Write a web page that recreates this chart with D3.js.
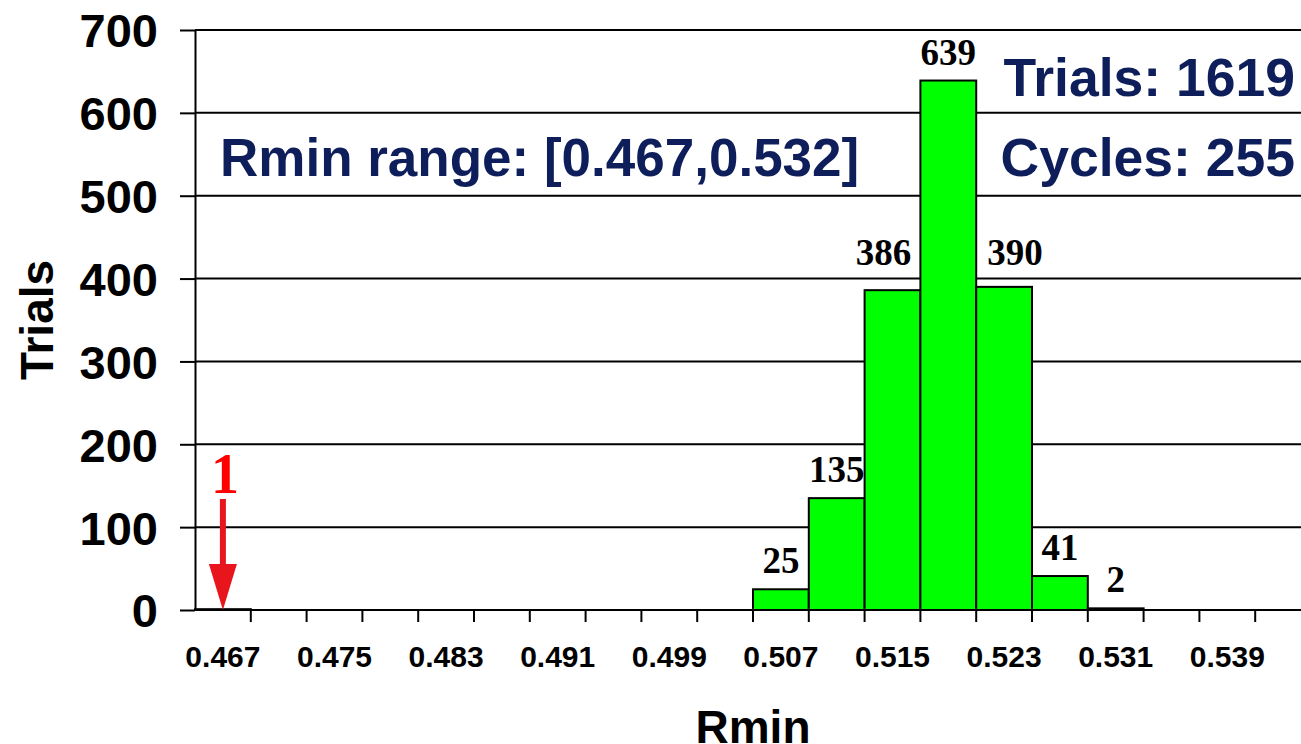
<!DOCTYPE html>
<html>
<head>
<meta charset="utf-8">
<script src="https://cdnjs.cloudflare.com/ajax/libs/d3/7.8.5/d3.min.js"></script>
<style>
  html, body { margin: 0; padding: 0; background: #fff; }
  svg { display: block; }
</style>
</head>
<body>
<svg id="chart"></svg>
<script>
// bins of Rmin (width 0.004), labelled by their centre
var bins = ["0.467","0.471","0.475","0.479","0.483","0.487","0.491","0.495","0.499","0.503",
            "0.507","0.511","0.515","0.519","0.523","0.527","0.531","0.535","0.539","0.543"];
var counts = [1,0,0,0,0,0,0,0,0,0,25,135,386,639,390,41,2,0,0,0];
var yTicks = [0,100,200,300,400,500,600,700];
var shownBinLabels = bins.filter(function(d, i) { return i % 2 === 0 && i < 19; });

var totalTrials = d3.sum(counts);
var cycles = 255;
var rangeText = "Rmin range: [0.467,0.532]";

var W = 1301, H = 744;
var plotLeft = 195, plotTop = 30, plotBottom = 610, binW = 55.8;

var svg = d3.select("#chart").attr("width", W).attr("height", H);

var x = d3.scaleBand().domain(bins).range([plotLeft, plotLeft + bins.length * binW]).padding(0);
var y = d3.scaleLinear().domain([0, 700]).range([plotBottom, plotTop]);

var sans = "'Liberation Sans', Arial, Helvetica, sans-serif";
var serif = "'Liberation Serif', 'Times New Roman', serif";
var navy = "#0d1e5b";

// gridlines
svg.append("g").selectAll("line")
  .data(yTicks.filter(function(d) { return d > 0; }))
  .enter().append("line")
  .attr("x1", plotLeft).attr("x2", W)
  .attr("y1", function(d) { return y(d); }).attr("y2", function(d) { return y(d); })
  .attr("stroke", "#000").attr("stroke-width", 2);

// bars
svg.append("g").selectAll("rect")
  .data(counts.map(function(c, i) { return {bin: bins[i], n: c}; }).filter(function(d) { return d.n > 0; }))
  .enter().append("rect")
  .attr("x", function(d) { return x(d.bin); })
  .attr("y", function(d) { return y(d.n); })
  .attr("width", x.bandwidth())
  .attr("height", function(d) { return y(0) - y(d.n); })
  .attr("fill", "#00ff00")
  .attr("stroke", "#000")
  .attr("stroke-width", 2);

// y axis
var yAxis = svg.append("g")
  .attr("transform", "translate(" + plotLeft + ",0)")
  .call(d3.axisLeft(y).tickValues(yTicks).tickSize(15).tickSizeOuter(0).tickPadding(22));
yAxis.select(".domain").attr("stroke-width", 2);
yAxis.selectAll(".tick line").attr("stroke-width", 2);
yAxis.selectAll("text")
  .attr("font-family", sans).attr("font-weight", "bold").attr("font-size", 47)
  .attr("dy", "0.36em").attr("fill", "#000");

// x axis: ticks at bin boundaries, labels on every second bin
var xAxis = svg.append("g").attr("transform", "translate(0," + plotBottom + ")");
xAxis.append("line")
  .attr("x1", plotLeft).attr("x2", W).attr("y1", 0).attr("y2", 0)
  .attr("stroke", "#000").attr("stroke-width", 2);
xAxis.selectAll(".btick")
  .data(bins)
  .enter().append("line")
  .attr("class", "btick")
  .attr("x1", function(d) { return x(d) + x.bandwidth(); })
  .attr("x2", function(d) { return x(d) + x.bandwidth(); })
  .attr("y1", 0).attr("y2", 12)
  .attr("stroke", "#000").attr("stroke-width", 2);
xAxis.selectAll(".blabel")
  .data(shownBinLabels)
  .enter().append("text")
  .attr("class", "blabel")
  .attr("x", function(d) { return x(d) + x.bandwidth() / 2; })
  .attr("y", 57)
  .attr("text-anchor", "middle")
  .attr("font-family", sans).attr("font-weight", "bold").attr("font-size", 30)
  .text(function(d) { return d; });

// value labels above bars (a few nudged sideways as in the original)
var nudge = {"0.515": [-9, -9], "0.523": [11, -6]};
svg.append("g").selectAll("text")
  .data(counts.map(function(c, i) { return {bin: bins[i], n: c}; }).filter(function(d) { return d.n > 1; }))
  .enter().append("text")
  .attr("x", function(d) { return x(d.bin) + x.bandwidth() / 2 + (nudge[d.bin] ? nudge[d.bin][0] : 0); })
  .attr("y", function(d) { return y(d.n) - 16 + (nudge[d.bin] ? nudge[d.bin][1] : 0); })
  .attr("text-anchor", "middle")
  .attr("font-family", serif).attr("font-weight", "bold").attr("font-size", 37)
  .text(function(d) { return d.n; });

// red arrow marking the single trial in the first bin
var ax = x(bins[0]) + x.bandwidth() / 2;
var red = "#e8161c";
svg.append("line")
  .attr("x1", ax).attr("x2", ax)
  .attr("y1", 499).attr("y2", y(0) - 44)
  .attr("stroke", red).attr("stroke-width", 6);
svg.append("path")
  .attr("d", "M" + (ax - 14) + "," + (y(0) - 46) + "L" + (ax + 14) + "," + (y(0) - 46) + "L" + ax + "," + y(0) + "Z")
  .attr("fill", red);
svg.append("text")
  .attr("x", ax + 2).attr("y", 493)
  .attr("text-anchor", "middle")
  .attr("font-family", serif).attr("font-weight", "bold").attr("font-size", 56)
  .attr("fill", "#ff0000")
  .text(counts[0]);

// annotations
svg.append("text")
  .attr("x", 220).attr("y", 176)
  .attr("font-family", sans).attr("font-weight", "bold").attr("font-size", 53)
  .attr("fill", navy)
  .text(rangeText);
svg.append("text")
  .attr("x", 1295).attr("y", 96)
  .attr("text-anchor", "end")
  .attr("font-family", sans).attr("font-weight", "bold").attr("font-size", 53.5)
  .attr("fill", navy)
  .text("Trials: " + totalTrials);
svg.append("text")
  .attr("x", 1295).attr("y", 176)
  .attr("text-anchor", "end")
  .attr("font-family", sans).attr("font-weight", "bold").attr("font-size", 53.5)
  .attr("fill", navy)
  .text("Cycles: " + cycles);

// axis titles
svg.append("text")
  .attr("x", (plotLeft + plotLeft + bins.length * binW) / 2).attr("y", 743)
  .attr("text-anchor", "middle")
  .attr("font-family", sans).attr("font-weight", "bold").attr("font-size", 46)
  .text("Rmin");
svg.append("text")
  .attr("transform", "translate(53," + ((plotTop + plotBottom) / 2) + ") rotate(-90)")
  .attr("text-anchor", "middle")
  .attr("font-family", sans).attr("font-weight", "bold").attr("font-size", 46)
  .text("Trials");
</script>
</body>
</html>
